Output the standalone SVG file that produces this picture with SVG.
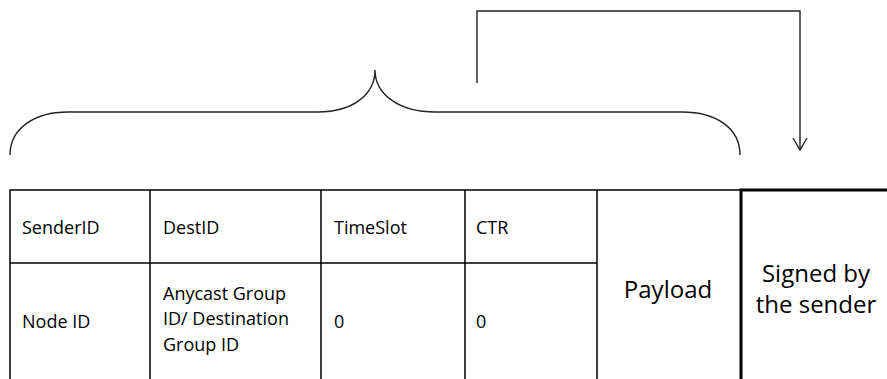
<svg xmlns="http://www.w3.org/2000/svg" width="887" height="379" viewBox="0 0 887 379">
<style>
.ln{stroke:#000;stroke-width:1.5;fill:none}
.thick{stroke:#000;stroke-width:3;fill:none}
.conn{stroke:#222;stroke-width:1.4;fill:none}
.t{font-family:"Open Sans","Liberation Sans",sans-serif;font-size:18px;fill:#000}
.big{font-family:"Open Sans","Liberation Sans",sans-serif;font-size:24px;fill:#000;text-anchor:middle}
</style>
<defs>
<marker id="arr" markerWidth="16" markerHeight="16" refX="13" refY="8" orient="auto" markerUnits="userSpaceOnUse" viewBox="0 0 16 16">
<path d="M1,1 L13,8 L1,15" stroke="#222" stroke-width="1.4" fill="none"/>
</marker>
</defs>
<rect width="887" height="379" fill="#fff"/>
<g id="brace">
<path class="conn" stroke="#000" d="M10,155 C10,128 35,112 68,112 L318,112 C352,112 375,95 375,70 C375,95 400,112 435,112 L682,112 C716,112 740,128 740,155"/>
</g>
<g id="connectors">
<path class="conn" d="M477,83 L477,11 L800,11 L800,150" marker-end="url(#arr)"/>
</g>
<g id="table">
<path class="ln" d="M10,379 V190 H741 M150,190 V379 M321,190 V379 M465,190 V379 M597,190 V379 M10,263 H597"/>
<path class="thick" d="M741,379 V190 H887"/>
</g>
<g id="cell-senderid"><text class="t" x="22" y="234">SenderID</text></g>
<g id="cell-destid"><text class="t" x="163" y="234">DestID</text></g>
<g id="cell-timeslot"><text class="t" x="334" y="234">TimeSlot</text></g>
<g id="cell-ctr"><text class="t" x="476" y="234">CTR</text></g>
<g id="cell-nodeid"><text class="t" x="22" y="328">Node ID</text></g>
<g id="cell-anycast"><text class="t" x="163" y="300">Anycast Group</text><text class="t" x="163" y="325">ID/ Destination</text><text class="t" x="163" y="351">Group ID</text></g>
<g id="cell-ts0"><text class="t" x="334" y="328">0</text></g>
<g id="cell-ctr0"><text class="t" x="476" y="328">0</text></g>
<g id="cell-payload"><text class="big" x="668" y="298">Payload</text></g>
<g id="cell-signed"><text class="big" x="816" y="282">Signed by</text><text class="big" x="816" y="313">the sender</text></g>
</svg>
